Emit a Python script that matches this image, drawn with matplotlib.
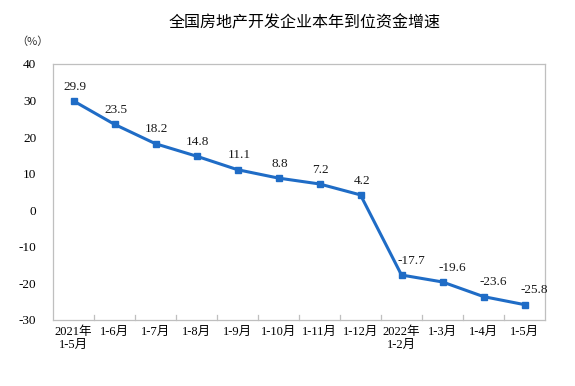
import matplotlib
matplotlib.use("Agg")
import matplotlib.pyplot as plt

categories = ["2021年\n1-5月", "1-6月", "1-7月", "1-8月", "1-9月", "1-10月", "1-11月",
              "1-12月", "2022年\n1-2月", "1-3月", "1-4月", "1-5月"]
values = [29.9, 23.5, 18.2, 14.8, 11.1, 8.8, 7.2, 4.2, -17.7, -19.6, -23.6, -25.8]
yticks = [40, 30, 20, 10, 0, -10, -20, -30]

fam = ["Liberation Serif", "Noto Sans CJK SC"]
plt.rcParams["font.family"] = fam

fig = plt.figure(figsize=(5.75, 3.86), dpi=100)
W, H = 575, 386
ax = fig.add_axes([53 / W, 1 - 320 / H, (545 - 53) / W, (320 - 64) / H])

x = list(range(len(values)))
color = "#1f6cc6"
ax.plot(x, values, color=color, lw=2.2, marker="s", ms=4.5, zorder=3)

for xi, v in zip(x, values):
    dx = 7 if v < 0 else 1
    ax.annotate(f"{v:.1f}", (xi, v), xytext=(dx, 6), textcoords="offset points",
                ha="center", va="bottom", fontsize=9.5, color="#1a1a1a")

ax.set_xlim(-0.5, len(values) - 0.5)
ax.set_ylim(-30, 40)
ax.set_yticks(yticks)
ax.set_yticklabels([str(t) for t in yticks], fontsize=9.5)
ax.tick_params(axis="y", length=0, pad=12)

ax.set_xticks(x)
ax.set_xticklabels(categories, fontsize=9, linespacing=1.2, va="top")
ax.tick_params(axis="x", length=0, pad=4)
for b in range(1, len(values)):
    ax.plot([b - 0.5, b - 0.5], [-30, -28.7], color="#bfbfbf", lw=0.9, zorder=1, clip_on=False)

for s in ax.spines.values():
    s.set_color("#bfbfbf")
    s.set_linewidth(0.9)

fig.text(305 / W, 1 - 23 / H, "全国房地产开发企业本年到位资金增速", ha="center", va="center",
         fontsize=11.5, family=["Noto Sans CJK SC"], weight="medium")
fig.text(32 / W, 1 - 42 / H, "（%）", ha="center", va="center", fontsize=8,
         family=["Noto Sans CJK SC"], color="#333333")

fig.savefig("out.png", dpi=100)
